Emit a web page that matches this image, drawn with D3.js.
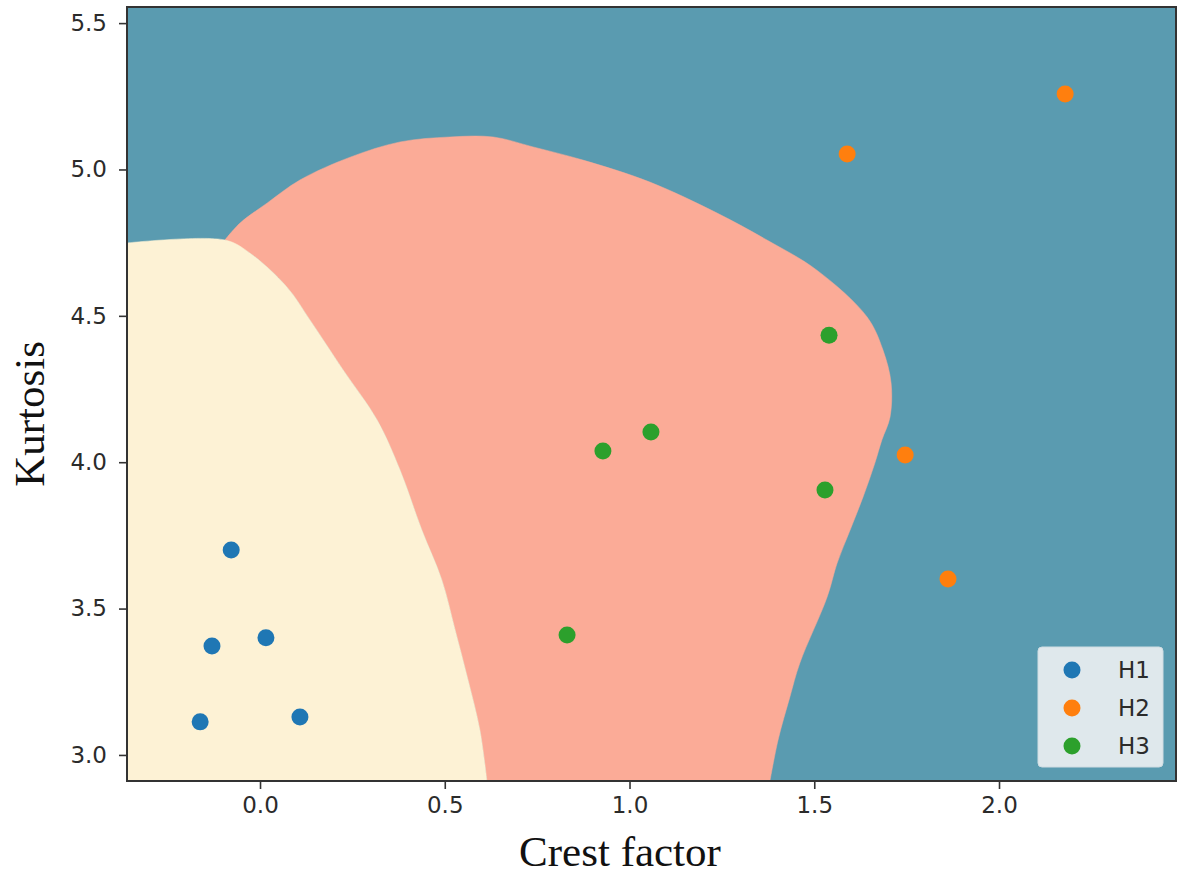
<!DOCTYPE html>
<html>
<head>
<meta charset="utf-8">
<script src="https://cdn.jsdelivr.net/npm/d3@7"></script>
<style>
  body { margin: 0; background: #fff; }
  svg { display: block; }
</style>
</head>
<body>
<div id="chart"></div>
<script>
// scatter points per class
const classes = ['H1', 'H2', 'H3']
const colors = ['#1f77b4', '#ff7f0e', '#2ca02c']
const h1X = [-0.162, -0.13, -0.078, 0.016, 0.108]
const h1Y = [3.113, 3.372, 3.7, 3.4, 3.13]
const h2X = [1.589, 2.179, 1.746, 1.862]
const h2Y = [5.053, 5.258, 4.025, 3.601]
const h3X = [1.54, 0.928, 1.058, 1.529, 0.831]
const h3Y = [4.434, 4.038, 4.103, 3.905, 3.41]

// decision boundary between H1 (cream) and H3 (salmon), top to bottom
const h1EdgeX = [-0.36, -0.095, -0.027, 0.073, 0.135, 0.225, 0.317, 0.379, 0.438, 0.492, 0.528, 0.563, 0.595, 0.614]
const h1EdgeY = [4.749, 4.759, 4.714, 4.598, 4.486, 4.315, 4.144, 3.973, 3.768, 3.598, 3.427, 3.256, 3.085, 2.911]
// decision boundary between H3 (salmon) and H2 (teal), clockwise
const h3EdgeX = [-0.095, -0.054, 0.019, 0.108, 0.244, 0.379, 0.514, 0.631, 0.739, 0.874, 1.055, 1.237, 1.372, 1.507, 1.643, 1.686, 1.708, 1.705, 1.683, 1.664, 1.632, 1.597, 1.562, 1.535, 1.461, 1.434, 1.402, 1.38]
const h3EdgeY = [4.759, 4.817, 4.885, 4.964, 5.042, 5.094, 5.111, 5.111, 5.077, 5.032, 4.957, 4.851, 4.759, 4.656, 4.496, 4.383, 4.27, 4.154, 4.076, 3.997, 3.881, 3.768, 3.656, 3.54, 3.314, 3.198, 3.051, 2.911]

const xTicks = [0, 0.5, 1, 1.5, 2]
const yTicks = [3, 3.5, 4, 4.5, 5, 5.5]
const xDomain = [-0.36, 2.479]
const yDomain = [2.911, 5.555]

const W = 1184
const H = 874
const margin = { top: 7, right: 8, bottom: 93, left: 127 }
const width = W - margin.left - margin.right
const height = H - margin.top - margin.bottom

const svg = d3
  .select('#chart')
  .append('svg')
  .attr('width', W)
  .attr('height', H)

const g = svg.append('g').attr('transform', `translate(${margin.left},${margin.top})`)

const x = d3.scaleLinear().domain(xDomain).range([0, width])
const y = d3.scaleLinear().domain(yDomain).range([height, 0])

g.append('clipPath').attr('id', 'clip')
  .append('rect').attr('width', width).attr('height', height)

const regions = g.append('g').attr('clip-path', 'url(#clip)')

// H2 region fills the background
regions.append('rect')
  .attr('width', width)
  .attr('height', height)
  .attr('fill', '#5a9bb0')

const curve = d3.line()
  .x((d) => x(d[0]))
  .y((d) => y(d[1]))
  .curve(d3.curveCatmullRom.alpha(0.5))
const pt = (d) => `L${x(d[0])},${y(d[1])}`

const h1Edge = h1EdgeX.map((v, i) => [v, h1EdgeY[i]])
const h3Edge = h3EdgeX.map((v, i) => [v, h3EdgeY[i]])
const h1Bottom = h1Edge[h1Edge.length - 1]

// salmon: outer edge, along the bottom, then back up the cream edge
const h3Path = curve(h3Edge) +
  pt(h1Bottom) +
  curve(h1Edge.slice(1).reverse()).replace(/^M/, 'L') + 'Z'
regions.append('path')
  .attr('d', h3Path)
  .attr('fill', '#fbab97')
  .attr('stroke', '#fbab97')
  .attr('stroke-width', 0.5)

const h1Path = curve(h1Edge) + pt([xDomain[0], yDomain[0]]) + 'Z'
regions.append('path')
  .attr('d', h1Path)
  .attr('fill', '#fdf2d5')
  .attr('stroke', '#fdf2d5')
  .attr('stroke-width', 0.5)

// points
const series = [
  { xs: h1X, ys: h1Y },
  { xs: h2X, ys: h2Y },
  { xs: h3X, ys: h3Y },
]
series.forEach((s, k) => {
  g.selectAll(null)
    .data(s.xs.map((v, i) => [v, s.ys[i]]))
    .enter()
    .append('circle')
    .attr('cx', (d) => x(d[0]))
    .attr('cy', (d) => y(d[1]))
    .attr('r', 8.5)
    .attr('fill', colors[k])
})

// axes
const tickFont = '"DejaVu Sans", sans-serif'
g.append('g')
  .attr('transform', `translate(0,${height})`)
  .call(d3.axisBottom(x).tickValues(xTicks).tickSize(8).tickPadding(8).tickFormat(d3.format('.1f')))
  .call((a) => a.select('.domain').remove())
  .call((a) => a.selectAll('.tick line').attr('stroke', '#333').attr('stroke-width', 1.6))
  .selectAll('text')
  .style('font-family', tickFont)
  .style('font-size', '23px')
  .attr('fill', '#2b2b2b')

g.append('g')
  .call(d3.axisLeft(y).tickValues(yTicks).tickSize(8).tickPadding(12).tickFormat(d3.format('.1f')))
  .call((a) => a.select('.domain').remove())
  .call((a) => a.selectAll('.tick line').attr('stroke', '#333').attr('stroke-width', 1.6))
  .selectAll('text')
  .style('font-family', tickFont)
  .style('font-size', '23px')
  .attr('fill', '#2b2b2b')

// frame
g.append('rect')
  .attr('width', width)
  .attr('height', height)
  .attr('fill', 'none')
  .attr('stroke', '#333')
  .attr('stroke-width', 2)

// legend
const leg = g.append('g').attr('transform', `translate(${width - 138},${height - 134})`)
leg.append('rect')
  .attr('width', 125)
  .attr('height', 120)
  .attr('rx', 4)
  .attr('fill', '#dfe8ec')
  .attr('stroke', '#cfdce2')
classes.forEach((c, i) => {
  leg.append('circle')
    .attr('cx', 34)
    .attr('cy', 23 + i * 38)
    .attr('r', 8.5)
    .attr('fill', colors[i])
  leg.append('text')
    .attr('x', 80)
    .attr('y', 23 + i * 38)
    .attr('dy', '0.36em')
    .style('font-family', tickFont)
    .style('font-size', '23px')
    .attr('fill', '#2b2b2b')
    .text(c)
})

// axis titles
svg.append('text')
  .attr('x', 620)
  .attr('y', 866)
  .attr('text-anchor', 'middle')
  .style('font-family', '"Liberation Serif", "Times New Roman", serif')
  .style('font-size', '43px')
  .attr('fill', '#111')
  .text('Crest factor')

svg.append('text')
  .attr('transform', 'translate(44,414) rotate(-90)')
  .attr('text-anchor', 'middle')
  .style('font-family', '"Liberation Serif", "Times New Roman", serif')
  .style('font-size', '43px')
  .attr('fill', '#111')
  .text('Kurtosis')
</script>
</body>
</html>
